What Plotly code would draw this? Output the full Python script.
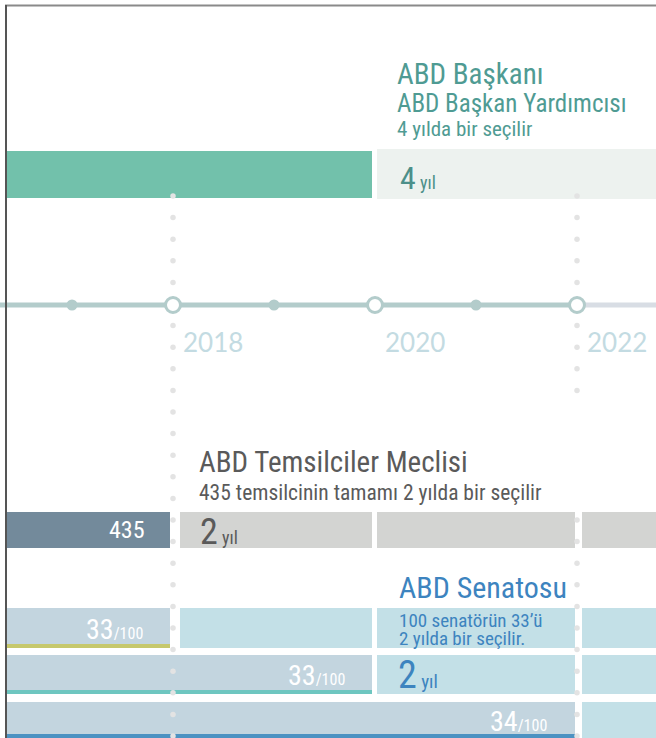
import numpy as np
import plotly.graph_objects as go

# ---------------- data ----------------
timeline_years = [2017, 2018, 2019, 2020, 2021, 2022]
election_years = [2018, 2020, 2022]
midterm_years = [2017, 2019, 2021]
year_labels = ["2018", "2020", "2022"]

president_term_end = 2020
president_term_length = 4

house_seats = 435
house_term_length = 2
house_term_ends = [2018, 2020, 2022]

senate_total = 100
senate_classes = [33, 33, 34]
senate_class_term_end = [2018, 2020, 2022]
senate_cycle = 2

# ---------------- layout / styles ----------------
W, H = 656, 738
PPY = 101.0                       # pixels per year
X_LEFT = 2018 - 173 / PPY         # year at pixel 0
X_RIGHT = X_LEFT + W / PPY
EDGE = X_LEFT + 7 / PPY           # start of left-hand bars
FAR = X_RIGHT + 1

GAP_END = {2018: 3, 2020: 3.5, 2022: 2.5}
GAP_START = {2018: 7, 2020: 1.5, 2022: 5}

NARROW = "Liberation Sans Narrow, Arial Narrow, Roboto Condensed, DejaVu Sans Condensed, Liberation Sans, sans-serif"

C_GREEN = "#72C1AB"
C_PRES_LIGHT = "#EDF2EF"
C_HOUSE_DARK = "#738A9B"
C_HOUSE_GRAY = "#D3D4D2"
C_SEN_LEFT = "#C3D5DF"
C_SEN_LIGHT = "#C3E0E7"
C_TIMELINE = "#B3CCCB"
C_TIMELINE_FUT = "#D8DDE4"
C_DOT = "#E3E3E3"
C_YEAR = "#C3DBE2"
C_PRES_TXT = "#4F9B93"
C_HOUSE_TXT = "#5A5A5A"
C_SEN_TXT = "#3D84BF"

fig = go.Figure()


def seg_start(y):
    return y + GAP_START[y] / PPY if y in GAP_START else y


def seg_end(y):
    return y - GAP_END[y] / PPY if y in GAP_END else y


def add_bar(x0, x1, yc, h, color):
    fig.add_trace(go.Bar(
        orientation="h", base=[x0], x=[x1 - x0], y=[yc], width=h,
        marker=dict(color=color, line=dict(width=0)),
        hoverinfo="skip", showlegend=False))


# dotted vertical guides
for yr, spans in [(2018, [(196, 738)]), (2022, [(196, 392), (520, 738)])]:
    ys = np.concatenate([np.arange(a, b, 21.6) for a, b in spans])
    fig.add_trace(go.Scatter(x=[yr] * len(ys), y=ys, mode="markers",
                             marker=dict(size=5.5, color=C_DOT),
                             hoverinfo="skip", showlegend=False))

# ---- President ----
add_bar(EDGE, seg_end(president_term_end), 174, 47, C_GREEN)
add_bar(seg_start(president_term_end), president_term_end + president_term_length, 174, 50, C_PRES_LIGHT)

# ---- House ----
HY, HH = 530, 36
add_bar(EDGE, seg_end(house_term_ends[0]), HY, HH, C_HOUSE_DARK)
for i, e in enumerate(house_term_ends):
    nxt = house_term_ends[i + 1] if i + 1 < len(house_term_ends) else FAR
    add_bar(seg_start(e), seg_end(nxt) if nxt != FAR else FAR, HY, HH, C_HOUSE_GRAY)

# ---- Senate ----
SEN_ROWS = [(628, 40), (674.5, 39), (720, 36)]
UNDER = ["#C6C86C", "#6EC6C0", "#4C92C2"]
for (yc, h), end, col in zip(SEN_ROWS, senate_class_term_end, UNDER):
    add_bar(EDGE, seg_end(end), yc, h, C_SEN_LEFT)
    add_bar(EDGE, seg_end(end), yc + h / 2 - 2.2, 4.4, col)
    s = end
    while s < X_RIGHT:
        e = s + senate_cycle
        add_bar(seg_start(s), seg_end(e) if e <= 2022 else FAR, yc, h, C_SEN_LIGHT)
        s = e

# ---- timeline ----
TY = 305
fig.add_trace(go.Scatter(x=[X_LEFT, 2022], y=[TY, TY], mode="lines",
                         line=dict(color=C_TIMELINE, width=5),
                         hoverinfo="skip", showlegend=False))
fig.add_trace(go.Scatter(x=[2022, FAR], y=[TY, TY], mode="lines",
                         line=dict(color=C_TIMELINE_FUT, width=5),
                         hoverinfo="skip", showlegend=False))
fig.add_trace(go.Scatter(x=midterm_years, y=[TY] * len(midterm_years), mode="markers",
                         marker=dict(size=11, color=C_TIMELINE),
                         hoverinfo="skip", showlegend=False))
fig.add_trace(go.Scatter(x=election_years, y=[TY] * len(election_years), mode="markers",
                         marker=dict(size=15, color="white", line=dict(width=3, color=C_TIMELINE)),
                         hoverinfo="skip", showlegend=False))

ann = []


def text(x, y, s, size, color, xshift=0, anchor="left", family=NARROW):
    ann.append(dict(x=x, y=y, xref="x", yref="y", text=s, showarrow=False,
                    xanchor=anchor, yanchor="middle", xshift=xshift,
                    font=dict(family=family, size=size, color=color)))


for yr, lab in zip(election_years, year_labels):
    text(yr, 342, lab, 26, C_YEAR, xshift=8, family="Lato, sans-serif")

# president texts
text(president_term_end, 74, "ABD Başkanı", 29, C_PRES_TXT, xshift=20)
text(president_term_end, 103, "ABD Başkan Yardımcısı", 25, C_PRES_TXT, xshift=20)
text(president_term_end, 129, "4 yılda bir seçilir", 21, C_PRES_TXT, xshift=20)
text(president_term_end, 178,
     f'{president_term_length}<span style="font-size:18px"> yıl</span>', 32, "#4C8F89", xshift=23)

# house texts
text(2018, 462, "ABD Temsilciler Meclisi", 29, C_HOUSE_TXT, xshift=24)
text(2018, 492, f"{house_seats} temsilcinin tamamı {house_term_length} yılda bir seçilir", 21.5, C_HOUSE_TXT, xshift=24)
text(house_term_ends[0], 530, f"{house_seats}", 24, "white", xshift=-26, anchor="right")
text(2018, 532, f'{house_term_length}<span style="font-size:18px"> yıl</span>', 36, C_HOUSE_TXT, xshift=25)

# senate texts
text(2020, 587, "ABD Senatosu", 30, C_SEN_TXT, xshift=22)
text(2020, 620, f"{senate_total} senatörün {senate_classes[0]}’ü", 19, C_SEN_TXT, xshift=22)
text(2020, 638.5, f"{senate_cycle} yılda bir seçilir.", 19, C_SEN_TXT, xshift=22)
text(2020, 675, f'{senate_cycle}<span style="font-size:19px"> yıl</span>', 38, C_SEN_TXT, xshift=21)
for (yc, h), end, n in zip(SEN_ROWS, senate_class_term_end, senate_classes):
    text(end, yc + 1, f'{n}<span style="font-size:16px">/{senate_total}</span>', 28, "white",
         xshift=-28, anchor="right")

fig.update_layout(
    width=W, height=H, margin=dict(l=0, r=0, t=0, b=0),
    paper_bgcolor="white", plot_bgcolor="white",
    barmode="overlay", bargap=0,
    xaxis=dict(range=[X_LEFT, X_RIGHT], visible=False, fixedrange=True),
    yaxis=dict(range=[H, 0], visible=False, fixedrange=True),
    annotations=ann,
    shapes=[
        dict(type="line", xref="paper", yref="paper", x0=5 / W, x1=1, y0=1 - 5.5 / H, y1=1 - 5.5 / H,
             line=dict(color="#8A8A8A", width=2)),
        dict(type="line", xref="paper", yref="paper", x0=6 / W, x1=6 / W, y0=0, y1=1 - 5 / H,
             line=dict(color="#555555", width=2)),
    ],
    showlegend=False,
)

fig.write_html("out.html", config={"displayModeBar": False},
               post_script="document.body.style.margin='0px';")
